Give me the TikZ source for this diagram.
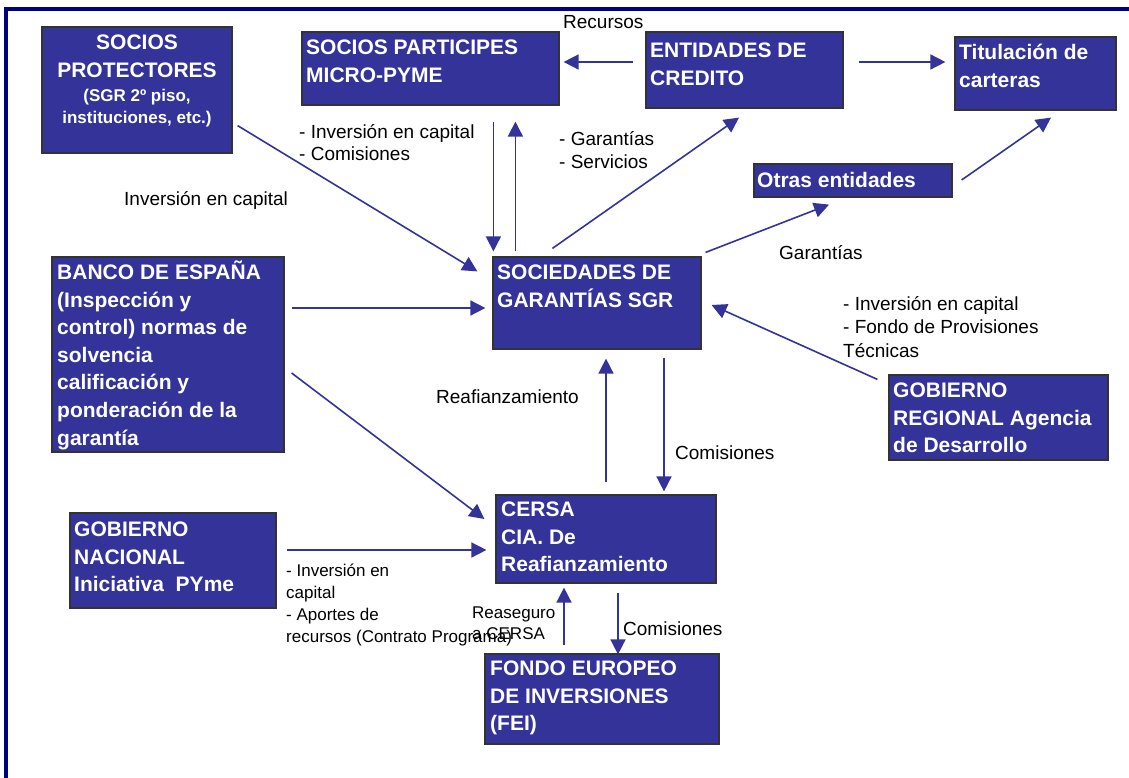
\documentclass[tikz,border=0pt]{standalone}
\usepackage{fontspec}
\setmainfont{Liberation Sans}
\usetikzlibrary{arrows.meta,calc}
\definecolor{boxblue}{HTML}{333399}
\definecolor{framenavy}{HTML}{000080}

\begin{document}
\begin{tikzpicture}[x=1pt,y=-1pt,
  entity/.style={draw=black!80,line width=1.2pt,fill=boxblue,inner sep=0pt},
  boxtext/.style={text=white,font=\fontsize{21}{27.6}\selectfont\bfseries,align=left,inner sep=0pt,anchor=base west},
  flow/.style={draw=boxblue,line width=1.6pt,-{Triangle[length=15pt,width=15pt]}},
  lbl/.style={font=\fontsize{19}{23}\selectfont,align=left,inner sep=0pt,anchor=base west},
  lblsmall/.style={lbl,font=\fontsize{17}{22}\selectfont}]
  \useasboundingbox (0,0) rectangle (1129,778);
  \draw[framenavy,line width=3.8pt] (5.8,778) -- (5.8,8.8) -- (1129,8.8);

  % boxes
  \node[entity,minimum width=190pt,minimum height=126pt] (prot) at (137,90) {};
  \node[entity,minimum width=257pt,minimum height=73pt] (part) at (430.5,68.5) {};
  \node[entity,minimum width=197pt,minimum height=76pt] (ent) at (744.5,70) {};
  \node[entity,minimum width=161pt,minimum height=73pt] (tit) at (1035.5,73.5) {};
  \node[entity,minimum width=198pt,minimum height=33pt] (otras) at (853,180.5) {};
  \node[entity,minimum width=208pt,minimum height=92pt] (sgr) at (597,303) {};
  \node[entity,minimum width=232pt,minimum height=195pt] (banco) at (168,354.5) {};
  \node[entity,minimum width=219pt,minimum height=85pt] (gobreg) at (998.5,417.5) {};
  \node[entity,minimum width=220pt,minimum height=88pt] (cersa) at (606,539) {};
  \node[entity,minimum width=206pt,minimum height=95pt] (gobnac) at (173,560.5) {};
  \node[entity,minimum width=234pt,minimum height=90pt] (fei) at (602,699) {};

  % box texts (placed at the baseline of their last line)
  \node[boxtext,anchor=base,align=center,font=\fontsize{21}{28}\selectfont\bfseries] (prot-t) at (137,77.5) {SOCIOS\\PROTECTORES};
  \node[boxtext,anchor=base,align=center,font=\fontsize{17}{22}\selectfont\bfseries] (prot-s) at (137,124) {(SGR 2º piso,\\instituciones, etc.)};
  \node[boxtext] (part-t) at (306,82.1) {SOCIOS PARTICIPES\\MICRO-PYME};
  \node[boxtext] (ent-t) at (650,85.1) {ENTIDADES DE\\CREDITO};
  \node[boxtext] (tit-t) at (959,87.1) {Titulación de\\carteras};
  \node[boxtext] (otras-t) at (757,187.5) {Otras entidades};
  \node[boxtext] (sgr-t) at (497,307.1) {SOCIEDADES DE\\GARANTÍAS SGR};
  \node[boxtext] (banco-t) at (57,445.1) {BANCO DE ESPAÑA\\(Inspección y\\control) normas de\\solvencia\\calificación y\\ponderación de la\\garantía};
  \node[boxtext] (gobreg-t) at (893,452.7) {GOBIERNO\\REGIONAL Agencia\\de Desarrollo};
  \node[boxtext] (cersa-t) at (501,571.7) {CERSA\\CIA. De\\Reafianzamiento};
  \node[boxtext] (gobnac-t) at (74,591.7) {GOBIERNO\\NACIONAL\\Iniciativa \ PYme};
  \node[boxtext] (fei-t) at (490,730.7) {FONDO EUROPEO\\DE INVERSIONES\\(FEI)};

  % flows
  \draw[flow] ($(prot.south east)+(5,-28)$) -- ($(sgr.north west)+(-15,15)$);
  \draw[flow] ($(part.south west)+(192,16)$) -- ($(sgr.north west)+(1,-5)$);
  \draw[flow] ($(sgr.north west)+(23,-5)$) -- ($(part.south west)+(214,16)$);
  \draw[flow] ($(ent.west)+(-12,-8)$) -- ($(part.east)+(4,-6.5)$);
  \draw[flow] ($(ent.east)+(15,-8)$) -- ($(tit.west)+(-9,-11.5)$);
  \draw[flow] ($(sgr.north west)+(60,-8)$) -- ($(ent.south)+(-5.5,9)$);
  \draw[flow] ($(sgr.north east)+(4,-4)$) -- ($(otras.south)+(-24,7)$);
  \draw[flow] ($(otras.east)+(9,-0.5)$) -- ($(tit.south)+(15.5,7)$);
  \draw[flow] ($(banco.east)+(7,-46.5)$) -- ($(sgr.west)+(-7,5)$);
  \draw[flow] ($(banco.east)+(7,18.5)$) -- ($(cersa.west)+(-11,-20)$);
  \draw[flow] ($(gobreg.north west)+(-11,5)$) -- ($(sgr.east)+(10,2)$);
  \draw[flow] ($(cersa.north)+(0,-12)$) -- ($(sgr.south)+(9,9)$);
  \draw[flow] ($(sgr.south)+(67,8)$) -- ($(cersa.north)+(58,-3)$);
  \draw[flow] ($(gobnac.east)+(10,-10.5)$) -- ($(cersa.west)+(-9,11)$);
  \draw[flow] ($(fei.north)+(-38,-8)$) -- ($(cersa.south)+(-42,4)$);
  \draw[flow] ($(cersa.south)+(12,9)$) -- ($(fei.north)+(16,1)$);

  % labels (placed at the baseline of their last line)
  \node[lbl] (l-rec) at (563,29) {Recursos};
  \node[lbl,font=\fontsize{19}{22}\selectfont] (l-part) at (299,161) {- Inversión en capital\\- Comisiones};
  \node[lbl] (l-prot) at (124,206) {Inversión en capital};
  \node[lbl] (l-ent) at (559,169) {- Garantías\\- Servicios};
  \node[lbl] (l-otras) at (779,259) {Garantías};
  \node[lbl,font=\fontsize{19}{23.5}\selectfont] (l-reg) at (843,357) {- Inversión en capital\\- Fondo de Provisiones\\Técnicas};
  \node[lbl] (l-reaf) at (436,403) {Reafianzamiento};
  \node[lbl] (l-com1) at (675,459) {Comisiones};
  \node[lblsmall] (l-nac) at (286,642) {- Inversión en\\capital\\- Aportes de\\recursos (Contrato Programa)};
  \node[lblsmall,font=\fontsize{17}{21}\selectfont] (l-rease) at (472,639) {Reaseguro\\a CERSA};
  \node[lbl] (l-com2) at (623,635) {Comisiones};
\end{tikzpicture}
\end{document}
